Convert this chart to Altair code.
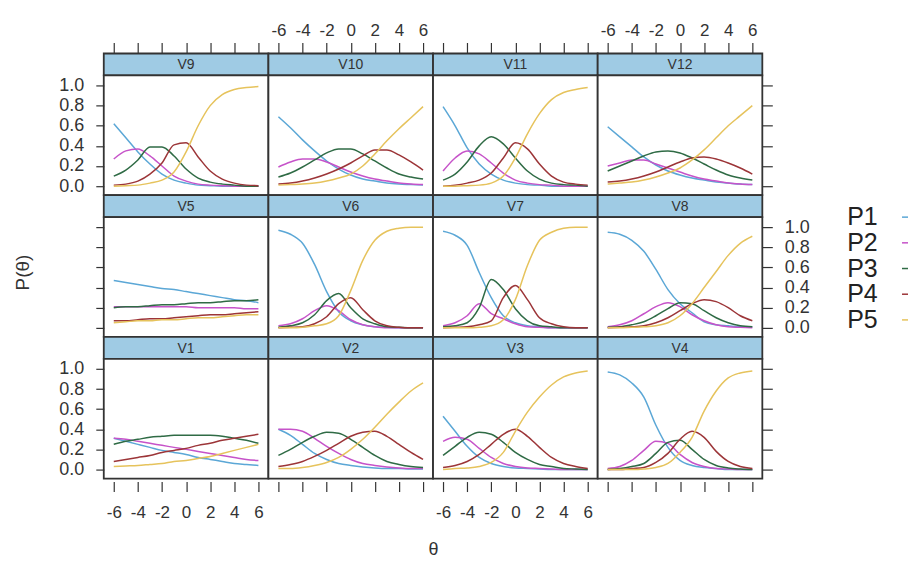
import altair as alt
import pandas as pd

theta = [-6, -5, -4, -3, -2, -1, 0, 1, 2, 3, 4, 5, 6]
categories = ["P1", "P2", "P3", "P4", "P5"]
colors = ["#5ba7d6", "#c653c9", "#2f6b45", "#9c3538", "#e6c35c"]

V9 = {
    "P1": [.62, .48, .34, .22, .12, .06, .03, .01, .005, 0, 0, 0, 0],
    "P2": [.27, .35, .37, .30, .20, .10, .05, .02, .01, .005, 0, 0, 0],
    "P3": [.10, .16, .26, .39, .39, .30, .17, .08, .04, .02, .01, 0, 0],
    "P4": [.01, .02, .05, .12, .23, .41, .43, .29, .15, .07, .03, .01, .005],
    "P5": [0, .005, .01, .03, .06, .14, .34, .60, .80, .91, .96, .98, .99],
}
V10 = {
    "P1": [.69, .58, .46, .35, .25, .17, .11, .07, .05, .03, .02, .015, .01],
    "P2": [.19, .24, .27, .27, .24, .19, .14, .10, .07, .05, .03, .02, .015],
    "P3": [.09, .13, .19, .26, .33, .37, .37, .32, .25, .18, .12, .09, .07],
    "P4": [.02, .03, .05, .08, .12, .17, .23, .30, .36, .36, .31, .24, .16],
    "P5": [.01, .015, .02, .03, .05, .08, .12, .20, .32, .45, .57, .68, .79],
}
V11 = {
    "P1": [.79, .60, .38, .22, .12, .06, .03, .015, .01, 0, 0, 0, 0],
    "P2": [.15, .28, .35, .32, .23, .13, .06, .03, .015, .01, 0, 0, 0],
    "P3": [.06, .12, .24, .40, .49, .42, .28, .15, .07, .03, .015, .01, 0],
    "P4": [0, .01, .03, .06, .13, .28, .43, .37, .22, .10, .04, .02, .01],
    "P5": [0, 0, .005, .01, .03, .10, .28, .52, .72, .86, .93, .96, .98],
}
V12 = {
    "P1": [.59, .49, .39, .29, .21, .15, .11, .08, .06, .04, .03, .02, .015],
    "P2": [.20, .23, .26, .26, .22, .18, .14, .10, .07, .05, .03, .02, .015],
    "P3": [.15, .20, .25, .30, .34, .35, .33, .28, .22, .16, .11, .08, .06],
    "P4": [.04, .05, .07, .10, .14, .19, .24, .28, .29, .27, .23, .18, .12],
    "P5": [.02, .03, .04, .06, .09, .13, .18, .26, .36, .48, .60, .70, .80],
}
V5 = {
    "P1": [.47, .45, .43, .41, .39, .38, .36, .34, .32, .30, .28, .27, .25],
    "P2": [.21, .21, .21, .21, .21, .21, .21, .20, .20, .20, .20, .19, .19],
    "P3": [.20, .21, .21, .22, .23, .23, .24, .25, .25, .26, .27, .27, .28],
    "P4": [.07, .07, .08, .09, .09, .10, .11, .12, .13, .13, .14, .15, .16],
    "P5": [.05, .06, .07, .07, .08, .08, .09, .10, .10, .11, .12, .13, .13],
}
V6 = {
    "P1": [.97, .93, .84, .63, .36, .16, .07, .03, .01, .005, 0, 0, 0],
    "P2": [.02, .04, .09, .17, .22, .17, .08, .03, .01, 0, 0, 0, 0],
    "P3": [.005, .02, .05, .13, .27, .34, .20, .09, .04, .01, .005, 0, 0],
    "P4": [0, .005, .01, .04, .11, .24, .30, .18, .07, .02, .005, 0, 0],
    "P5": [0, 0, .005, .02, .04, .12, .37, .67, .87, .96, .99, 1, 1],
}
V7 = {
    "P1": [.96, .92, .82, .55, .30, .12, .05, .02, .01, 0, 0, 0, 0],
    "P2": [.02, .05, .12, .24, .14, .09, .04, .01, .005, 0, 0, 0, 0],
    "P3": [.01, .02, .05, .20, .48, .38, .19, .07, .02, .01, 0, 0, 0],
    "P4": [0, .005, .01, .03, .07, .30, .42, .28, .10, .04, .01, 0, 0],
    "P5": [0, 0, 0, .005, .02, .08, .28, .62, .87, .95, .99, 1, 1],
}
V8 = {
    "P1": [.95, .93, .87, .76, .58, .38, .24, .15, .06, .03, .02, .01, .01],
    "P2": [.01, .03, .07, .14, .21, .25, .21, .13, .07, .03, .01, .005, 0],
    "P3": [.005, .01, .03, .06, .12, .19, .25, .24, .17, .10, .05, .02, .01],
    "P4": [0, .005, .01, .02, .05, .10, .17, .24, .28, .26, .20, .12, .07],
    "P5": [0, 0, .005, .01, .02, .05, .12, .24, .40, .56, .72, .84, .91],
}
V1 = {
    "P1": [.31, .28, .25, .22, .19, .17, .15, .12, .10, .08, .06, .05, .04],
    "P2": [.31, .30, .28, .26, .24, .22, .20, .18, .16, .14, .12, .10, .09],
    "P3": [.25, .28, .30, .32, .33, .34, .34, .34, .34, .33, .31, .29, .26],
    "P4": [.08, .10, .12, .14, .17, .19, .21, .24, .26, .29, .31, .33, .35],
    "P5": [.03, .035, .04, .05, .06, .08, .09, .11, .13, .16, .19, .22, .25],
}
V2 = {
    "P1": [.40, .34, .25, .16, .10, .06, .04, .025, .015, .01, .01, .005, .005],
    "P2": [.40, .40, .38, .31, .23, .16, .10, .06, .04, .025, .015, .01, .01],
    "P3": [.14, .20, .27, .33, .37, .36, .30, .22, .14, .08, .05, .03, .02],
    "P4": [.03, .05, .08, .13, .19, .26, .33, .37, .38, .33, .25, .17, .10],
    "P5": [.01, .01, .02, .04, .07, .12, .20, .30, .42, .55, .67, .78, .86],
}
V3 = {
    "P1": [.53, .38, .23, .12, .06, .03, .015, .01, .005, 0, 0, 0, 0],
    "P2": [.28, .32, .30, .21, .12, .06, .03, .015, .01, .005, 0, 0, 0],
    "P3": [.14, .23, .32, .37, .35, .27, .17, .10, .05, .03, .01, .005, 0],
    "P4": [.02, .04, .08, .15, .25, .35, .40, .33, .22, .12, .06, .03, .01],
    "P5": [0, .01, .015, .03, .07, .17, .38, .57, .72, .84, .92, .96, .98],
}
V4 = {
    "P1": [.97, .94, .86, .72, .44, .22, .09, .04, .02, .01, 0, 0, 0],
    "P2": [.01, .03, .09, .19, .28, .26, .15, .07, .03, .01, .005, 0, 0],
    "P3": [0, .01, .03, .06, .16, .27, .29, .20, .10, .04, .015, .005, 0],
    "P4": [0, 0, .01, .02, .07, .16, .30, .38, .32, .18, .08, .03, .01],
    "P5": [0, 0, 0, .005, .02, .06, .17, .32, .58, .78, .91, .96, .98],
}

items = {"V1": V1, "V2": V2, "V3": V3, "V4": V4, "V5": V5, "V6": V6,
         "V7": V7, "V8": V8, "V9": V9, "V10": V10, "V11": V11, "V12": V12}
grid_rows = [["V9", "V10", "V11", "V12"],
             ["V5", "V6", "V7", "V8"],
             ["V1", "V2", "V3", "V4"]]

FONT = "Liberation Sans Narrow, Liberation Sans, Arial, sans-serif"
AX = "#333333"
BORDER = "#333333"
STRIP = "#9fcbe4"
W, PH, SH = 165, 120, 22
xticks = [-6, -4, -2, 0, 2, 4, 6]
yticks = [0.0, 0.2, 0.4, 0.6, 0.8, 1.0]
XLAB = "datum.value < 0 ? '-' + abs(datum.value) : '' + datum.value"

xs = alt.Scale(domain=[-6.83, 6.83], nice=False, zero=False)
ys = alt.Scale(domain=[-0.09, 1.1], nice=False, zero=False)
cs = alt.Scale(domain=categories, range=colors)


def panel_df(name):
    rows = []
    for cat in categories:
        for t, v in zip(theta, items[name][cat]):
            rows.append({"theta": t, "cat": cat, "p": v})
    return pd.DataFrame(rows)


def strip_chart(name, r, c):
    df = pd.DataFrame({"name": [name]})
    txt = alt.Chart(df).mark_text(font=FONT, fontSize=14, color=AX).encode(
        x=alt.value(W / 2), y=alt.value(SH / 2 + 1), text="name:N")
    if r == 0:
        ax = alt.Axis(orient="top", values=xticks, labels=(c % 2 == 1), tickSize=10,
                      offset=1, tickColor=AX, tickWidth=1.2, labelColor=AX, labelFont=FONT,
                      labelFontSize=17, labelPadding=3, labelExpr=XLAB,
                      domain=False, grid=False, title=None)
        inv = alt.Chart(panel_df(name)).mark_point(opacity=0).encode(
            x=alt.X("theta:Q", scale=xs, axis=ax))
        ch = alt.layer(txt, inv)
    else:
        ch = txt
    return ch.properties(width=W, height=SH,
                         view=alt.ViewBackground(fill=STRIP, stroke=BORDER, strokeWidth=1.8))


def panel_chart(name, r, c):
    df = panel_df(name)
    if r == 2:
        xkw = dict(orient="bottom", values=xticks, labels=(c % 2 == 0), tickSize=10, offset=3,
                   tickColor=AX, tickWidth=1.2, labelColor=AX, labelFont=FONT, labelFontSize=17,
                   labelPadding=13, labelExpr=XLAB, domain=False, grid=False)
        if c == 1:
            xkw.update(title="θ", titleX=W, titleY=68, titleBaseline="middle",
                       titleFont=FONT, titleFontSize=18, titleFontWeight="normal", titleColor=AX)
        else:
            xkw.update(title=None)
        xenc = alt.X("theta:Q", scale=xs, axis=alt.Axis(**xkw))
    else:
        xenc = alt.X("theta:Q", scale=xs, axis=None)

    if c in (0, 3):
        ykw = dict(orient="left" if c == 0 else "right", values=yticks, format=".1f",
                   labels=(r != 1) if c == 0 else (r == 1), tickSize=8 if c == 0 else 10,
                   tickColor=AX, tickWidth=1.2, labelColor=AX, labelFont=FONT, labelFontSize=18,
                   labelPadding=12, domain=False, grid=False)
        if c == 0 and r == 1:
            ykw.update(title="P(θ)", titleX=-81, titleY=PH / 2 - 5, titleBaseline="middle",
                       titleFont=FONT, titleFontSize=19, titleFontWeight="normal",
                       titleColor=AX)
        else:
            ykw.update(title=None)
        yenc = alt.Y("p:Q", scale=ys, axis=alt.Axis(**ykw))
    else:
        yenc = alt.Y("p:Q", scale=ys, axis=None)

    line = alt.Chart(df).mark_line(strokeWidth=1.5, interpolate="monotone").encode(
        x=xenc, y=yenc,
        color=alt.Color("cat:N", scale=cs, legend=None))

    if r == 1 and c == 3:
        leg_df = pd.DataFrame({"cat": categories, "row": list(range(len(categories)))})
        ly = alt.Y("row:Q", scale=alt.Scale(domain=[0, 4], range=[0, 103]), axis=None)
        leg_text = alt.Chart(leg_df).mark_text(
            align="left", baseline="middle", font=FONT, fontSize=25, color="#222222").encode(
            x=alt.value(250), y=ly, text="cat:N")
        leg_rule = alt.Chart(leg_df).mark_rule(strokeWidth=1.5).encode(
            x=alt.value(305), x2=alt.value(311), y=ly,
            color=alt.Color("cat:N", scale=cs, legend=None))
        ch = alt.layer(line, leg_text, leg_rule).resolve_scale(y="independent")
    else:
        ch = line
    return ch.properties(width=W, height=PH,
                         view=alt.ViewBackground(fill="white", stroke=BORDER, strokeWidth=1.8))


charts = []
for r, row in enumerate(grid_rows):
    for c, name in enumerate(row):
        charts.append(strip_chart(name, r, c))
    for c, name in enumerate(row):
        charts.append(panel_chart(name, r, c))

chart = alt.concat(*charts, columns=4, spacing=0, bounds="flush").properties(
    padding={"left": 13, "top": 20, "right": 0, "bottom": 0}
).configure_view(stroke=BORDER, strokeWidth=1.8).configure(background="white")

chart.save("out.html", embed_options={"renderer": "svg", "actions": False})
